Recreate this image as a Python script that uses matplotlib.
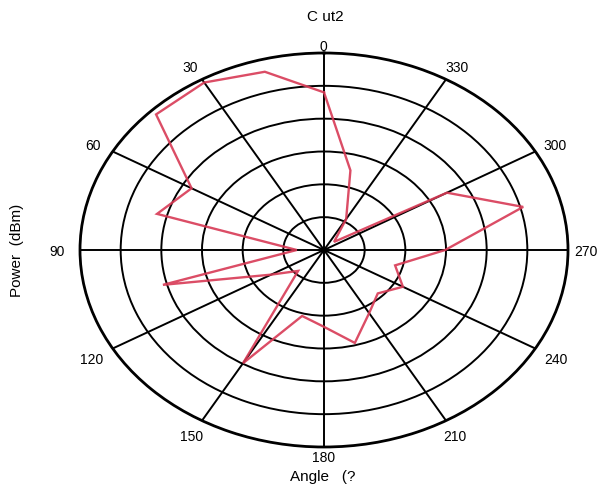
import numpy as np
import matplotlib
matplotlib.use('Agg')
import matplotlib.pyplot as plt

# ---- data ----
angles_deg = [0, 15, 30, 45, 60, 75, 90, 105, 120, 135, 150, 165,
              180, 195, 210, 225, 240, 255, 270, 285, 300, 315, 330, 345]
power_dbm = [-12.0, -3.8, -1.1, -1.6, -22.4, -17.5, -53.3, -19.0, -45.0, -51.0, -20.2, -39.2,
             -36.6, -30.7, -37.8, -41.3, -37.6, -41.9, -30.2, -9.3, -25.1, -56.5, -49.1, -34.9]
theta_ticks = [0, 30, 60, 90, 120, 150, 180, 210, 240, 270, 300, 330]
theta_labels = ['0', '30', '60', '90', '120', '150', '180', '210', '240', '270', '300', '330']
r_min, r_max = -60, 0
r_rings = [-50, -40, -30, -20, -10]

# label offsets (pixels, from the end of each spoke)
label_offsets = [(-1, 6), (-12, 11.5), (-20, 5.5), (-23, -2), (-21, -11.5), (-10, -16),
                 (0, -11), (9, -16), (21, -11.5), (18, -2), (20, 5.5), (11, 11.5)]

plt.rcParams['font.family'] = ['Liberation Sans', 'DejaVu Sans']

W, H = 606, 494
fig = plt.figure(figsize=(W / 100, H / 100), dpi=100)
ax = fig.add_axes([80 / W, 47 / H, 488 / W, 394 / H], projection='polar')
ax.set_aspect('auto')
ax.set_theta_zero_location('N')
ax.set_theta_direction(1)

th = np.deg2rad(angles_deg + [angles_deg[0]])
rr = power_dbm + [power_dbm[0]]
ax.plot(th, rr, color='#d83a55', lw=1.7, alpha=0.9, solid_joinstyle='miter')

ax.set_ylim(r_min, r_max)
ax.set_yticks(r_rings)
ax.set_yticklabels([])
ax.set_xticks(np.deg2rad(theta_ticks))
ax.set_xticklabels([])
ax.grid(True, color='black', lw=1.4)
ax.spines['polar'].set_linewidth(2.0)

for t, lab, (dx, dy) in zip(theta_ticks, theta_labels, label_offsets):
    ax.annotate(lab, xy=(np.deg2rad(t), r_max), xycoords='data',
                xytext=(dx, dy), textcoords='offset pixels',
                ha='center', va='center', fontsize=10, annotation_clip=False)

fig.text(325 / W, 1 - 17 / H, 'C ut2', ha='center', va='center', fontsize=11)
fig.text(323 / W, 1 - 477 / H, 'Angle   (?', ha='center', va='center', fontsize=11)
fig.text(17 / W, 1 - 250 / H, 'Power  (dBm)', ha='center', va='center', rotation=90, fontsize=11)

fig.savefig('out.png', dpi=100)
